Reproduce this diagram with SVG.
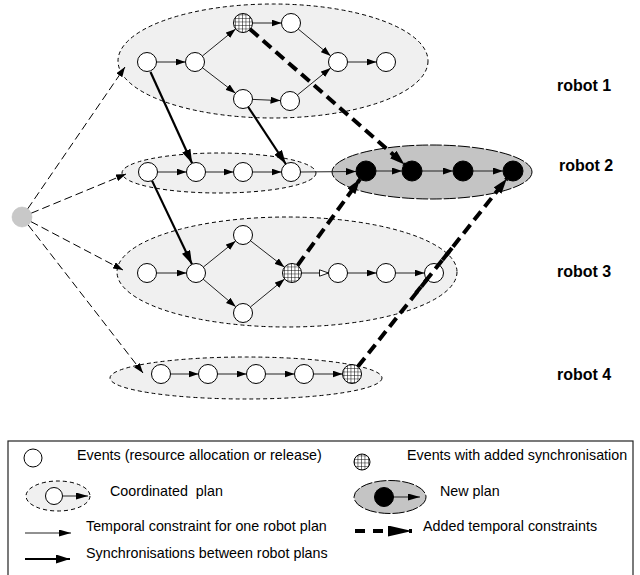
<svg xmlns="http://www.w3.org/2000/svg" width="640" height="575" viewBox="0 0 640 575">
<defs>
<marker id="ah" markerUnits="userSpaceOnUse" markerWidth="10" markerHeight="7" refX="10" refY="3.5" orient="auto"><path d="M0,0 L10,3.5 L0,7 z" fill="#000"/></marker>
<marker id="ahLeg" markerUnits="userSpaceOnUse" markerWidth="12" markerHeight="7" refX="12" refY="3.5" orient="auto"><path d="M0,0 L12,3.5 L0,7 z" fill="#000"/></marker>
<marker id="ahHollow" markerUnits="userSpaceOnUse" markerWidth="10" markerHeight="8" refX="9.5" refY="4" orient="auto"><path d="M0.5,0.8 L9.5,4 L0.5,7.2 z" fill="#fff" stroke="#000" stroke-width="0.9"/></marker>
<marker id="ahThick" markerUnits="userSpaceOnUse" markerWidth="14" markerHeight="9" refX="14" refY="4.5" orient="auto"><path d="M0,0 L14,4.5 L0,9 z" fill="#000"/></marker>
<marker id="ahDash" markerUnits="userSpaceOnUse" markerWidth="15" markerHeight="10" refX="15" refY="5" orient="auto"><path d="M0,0 L15,5 L0,10 z" fill="#000"/></marker>
<marker id="ahDashLeg" markerUnits="userSpaceOnUse" markerWidth="24" markerHeight="11" refX="24" refY="5.5" orient="auto"><path d="M0,0 L24,5.5 L0,11 z" fill="#000"/></marker>
<pattern id="grid" patternUnits="userSpaceOnUse" width="3.5" height="3.5" x="0.5" y="0.5"><rect width="3.5" height="3.5" fill="#fff"/><path d="M0,0 H3.5 M0,0 V3.5" stroke="#000" stroke-width="1"/></pattern>
</defs>
<style>
.plan{fill:#f0f0f0;stroke:#000;stroke-width:1;stroke-dasharray:4,3}
.newplan{fill:#c4c4c4;stroke:#000;stroke-width:1;stroke-dasharray:12,2}
.ev{fill:#fff;stroke:#000;stroke-width:1}
.evb{fill:#000;stroke:#000;stroke-width:1}
.evg{fill:url(#grid);stroke:#000;stroke-width:1}
.thin{stroke:#222;stroke-width:1;fill:none;marker-end:url(#ah)}
.hollow{stroke:#222;stroke-width:1;fill:none;marker-end:url(#ahHollow)}
.src{stroke:#000;stroke-width:1;stroke-dasharray:8,4;fill:none;marker-end:url(#ah)}
.sync{stroke:#000;stroke-width:2.2;fill:none;marker-end:url(#ahThick)}
.added{stroke:#000;stroke-width:4;stroke-dasharray:11,6;fill:none;marker-end:url(#ahDash)}
.lbl{font-family:"Liberation Sans",Arial,Helvetica,sans-serif;font-size:16px;font-weight:bold;fill:#000}
.leg{font-family:"Liberation Sans",Arial,Helvetica,sans-serif;font-size:14.3px;fill:#000}
</style>

<g id="plans">
<ellipse id="plan-robot1" class="plan" cx="273" cy="61" rx="155" ry="57"/>
<ellipse id="plan-robot2" class="plan" cx="219" cy="173" rx="97" ry="20"/>
<ellipse id="plan-robot3" class="plan" cx="287" cy="272" rx="170" ry="55"/>
<ellipse id="plan-robot4" class="plan" cx="246" cy="378" rx="136" ry="21"/>
<ellipse id="newplan-robot2" class="newplan" cx="432" cy="172" rx="100" ry="27"/>
</g>

<g id="connectors">
<line class="src" x1="27.7" y1="208.8" x2="125" y2="67"/>
<line class="src" x1="31.2" y1="213.2" x2="126" y2="174"/>
<line class="src" x1="30.9" y1="221.6" x2="123" y2="270"/>
<line class="src" x1="28.1" y1="224.9" x2="143" y2="373"/>
<line class="thin" x1="156.5" y1="62" x2="185.5" y2="62"/>
<line class="thin" x1="202.4" y1="56" x2="235.6" y2="29"/>
<line class="thin" x1="202.5" y1="67.8" x2="235.5" y2="93.2"/>
<line class="thin" x1="252.5" y1="23" x2="281.5" y2="23"/>
<line class="thin" x1="252.5" y1="99.4" x2="280.5" y2="100.6"/>
<line class="thin" x1="298.3" y1="29.1" x2="330.7" y2="55.9"/>
<line class="thin" x1="297.4" y1="95" x2="330.6" y2="68"/>
<line class="thin" x1="347.5" y1="62" x2="376.5" y2="62"/>
<line class="thin" x1="157.5" y1="172" x2="186.5" y2="172"/>
<line class="thin" x1="205.5" y1="172" x2="233.5" y2="172"/>
<line class="thin" x1="252.5" y1="172" x2="281.5" y2="172"/>
<line class="thin" x1="300.5" y1="172" x2="356" y2="171.5"/>
<line class="thin" x1="376" y1="171" x2="402" y2="171"/>
<line class="thin" x1="422" y1="171" x2="453" y2="171"/>
<line class="thin" x1="473" y1="171" x2="503" y2="171"/>
<line class="thin" x1="156.5" y1="273" x2="186.5" y2="273"/>
<line class="thin" x1="203.4" y1="267" x2="235.6" y2="241"/>
<line class="thin" x1="203.2" y1="279.2" x2="235.8" y2="306.8"/>
<line class="thin" x1="250.5" y1="240.8" x2="284.5" y2="267.2"/>
<line class="thin" x1="250.4" y1="307" x2="284.6" y2="279"/>
<line class="hollow" x1="301.5" y1="273" x2="328.5" y2="273"/>
<line class="thin" x1="347.5" y1="273" x2="376.5" y2="273"/>
<line class="thin" x1="395.5" y1="273" x2="424.5" y2="273"/>
<line class="thin" x1="170.5" y1="374" x2="198.5" y2="374"/>
<line class="thin" x1="217.5" y1="374" x2="246.5" y2="374"/>
<line class="thin" x1="265.5" y1="374" x2="294.5" y2="374"/>
<line class="thin" x1="313.5" y1="374" x2="342.5" y2="374"/>
<line class="sync" x1="150.5" y1="72" x2="192.1" y2="163.3"/>
<line class="sync" x1="248.2" y1="107" x2="285.8" y2="164"/>
<line class="sync" x1="152" y1="180.6" x2="192" y2="264.4"/>
<line class="added" x1="250.1" y1="29.3" x2="404.5" y2="164.4"/>
<line class="added" x1="297.6" y1="265.3" x2="360.1" y2="179.1"/>
<line class="added" x1="357.9" y1="366.6" x2="506.8" y2="178.8"/>
</g>

<g id="source"><circle cx="22" cy="217" r="10" fill="#c8c8c8" stroke="#bbb" stroke-width="0.5"/></g>

<g id="robot1-events">
<circle class="ev" cx="147" cy="62" r="9.5"/>
<circle class="ev" cx="195" cy="62" r="9.5"/>
<circle class="evg" cx="243" cy="23" r="9.5"/>
<circle class="ev" cx="291" cy="23" r="9.5"/>
<circle class="ev" cx="243" cy="99" r="9.5"/>
<circle class="ev" cx="290" cy="101" r="9.5"/>
<circle class="ev" cx="338" cy="62" r="9.5"/>
<circle class="ev" cx="386" cy="62" r="9.5"/>
</g>
<g id="robot2-events">
<circle class="ev" cx="148" cy="172" r="9.5"/>
<circle class="ev" cx="196" cy="172" r="9.5"/>
<circle class="ev" cx="243" cy="172" r="9.5"/>
<circle class="ev" cx="291" cy="172" r="9.5"/>
<circle class="evb" cx="366" cy="171" r="10"/>
<circle class="evb" cx="412" cy="171" r="10"/>
<circle class="evb" cx="463" cy="171" r="10"/>
<circle class="evb" cx="513" cy="171" r="10"/>
</g>
<g id="robot3-events">
<circle class="ev" cx="147" cy="273" r="9.5"/>
<circle class="ev" cx="196" cy="273" r="9.5"/>
<circle class="ev" cx="243" cy="235" r="9.5"/>
<circle class="ev" cx="243" cy="313" r="9.5"/>
<circle class="evg" cx="292" cy="273" r="9.5"/>
<circle class="ev" cx="338" cy="273" r="9.5"/>
<circle class="ev" cx="386" cy="273" r="9.5"/>
<circle class="ev" cx="434" cy="273" r="9.5"/>
</g>
<g id="robot4-events">
<circle class="ev" cx="161" cy="374" r="9.5"/>
<circle class="ev" cx="208" cy="374" r="9.5"/>
<circle class="ev" cx="256" cy="374" r="9.5"/>
<circle class="ev" cx="304" cy="374" r="9.5"/>
<circle class="evg" cx="352" cy="374" r="9.5"/>
</g>
<g id="overlay"><line x1="416" y1="293" x2="452" y2="248" stroke="#000" stroke-width="4" stroke-dasharray="11,6" stroke-dashoffset="3"/></g>

<g id="labels">
<text class="lbl" x="557" y="91">robot 1</text>
<text class="lbl" x="559" y="171">robot 2</text>
<text class="lbl" x="557" y="277">robot 3</text>
<text class="lbl" x="557" y="380">robot 4</text>
</g>

<g id="legend">
<rect x="8" y="441" width="625" height="145" fill="none" stroke="#222" stroke-width="1.2"/>
<circle class="ev" cx="33" cy="458" r="9"/>
<text class="leg" x="77" y="460">Events (resource allocation or release)</text>
<circle class="evg" cx="362" cy="462" r="8"/>
<text class="leg" x="407" y="460">Events with added synchronisation</text>
<ellipse class="plan" cx="58" cy="496" rx="32" ry="15"/>
<line class="thin" x1="63" y1="496" x2="88" y2="496" style="marker-end:url(#ahLeg)"/>
<circle class="ev" cx="54" cy="496" r="8.5"/>
<text class="leg" x="110" y="496" xml:space="preserve">Coordinated  plan</text>
<ellipse class="newplan" cx="390" cy="497" rx="36" ry="16.5"/>
<line class="thin" x1="393" y1="497" x2="420" y2="497" style="marker-end:url(#ahLeg)"/>
<circle class="evb" cx="384" cy="497" r="9.5"/>
<text class="leg" x="440" y="496">New plan</text>
<line class="thin" x1="25" y1="533" x2="71" y2="533" style="marker-end:url(#ahLeg)"/>
<text class="leg" x="86" y="531">Temporal constraint for one robot plan</text>
<line x1="355" y1="531" x2="412" y2="531" stroke="#000" stroke-width="4" stroke-dasharray="10,8" fill="none" style="marker-end:url(#ahDashLeg)"/>
<text class="leg" x="423" y="531">Added temporal constraints</text>
<line class="sync" x1="25" y1="559" x2="70" y2="559" style="marker-end:url(#ahThick)"/>
<text class="leg" x="86" y="558">Synchronisations between robot plans</text>
</g>
</svg>
